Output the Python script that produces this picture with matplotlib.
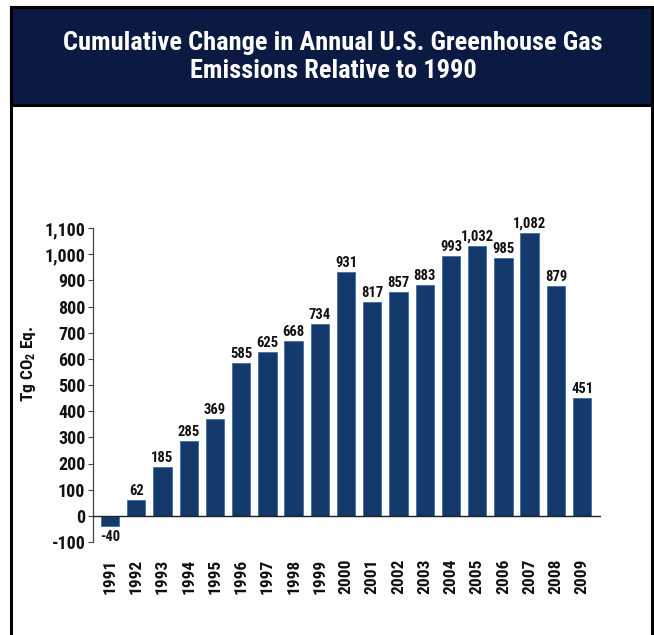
import matplotlib
matplotlib.use("Agg")
import matplotlib.pyplot as plt
from matplotlib.patches import Rectangle
from matplotlib.ticker import FuncFormatter

years = ["1991", "1992", "1993", "1994", "1995", "1996", "1997", "1998", "1999", "2000",
         "2001", "2002", "2003", "2004", "2005", "2006", "2007", "2008", "2009"]
values = [-40, 62, 185, 285, 369, 585, 625, 668, 734, 931,
          817, 857, 883, 993, 1032, 985, 1082, 879, 451]
value_labels = ["-40", "62", "185", "285", "369", "585", "625", "668", "734", "931",
                "817", "857", "883", "993", "1,032", "985", "1,082", "879", "451"]
yticks = [-100, 0, 100, 200, 300, 400, 500, 600, 700, 800, 900, 1000, 1100]
title = "Cumulative Change in Annual U.S. Greenhouse Gas\nEmissions Relative to 1990"
ylabel = r"Tg CO$_\mathregular{2}$ Eq."

FONT = ["Roboto Condensed", "DejaVu Sans"]
plt.rcParams["font.family"] = FONT
plt.rcParams["font.weight"] = "bold"
plt.rcParams["mathtext.default"] = "regular"

W, H = 654, 635
fig = plt.figure(figsize=(W / 100, H / 100), dpi=100)
fig.patch.set_facecolor("white")

def fx(x): return x / W
def fy(y): return 1 - y / H

frame = Rectangle((fx(11), fy(640)), fx(652) - fx(11), fy(7) - fy(640),
                  transform=fig.transFigure, facecolor="none", edgecolor="black", lw=2.2, zorder=1)
band = Rectangle((fx(11), fy(105)), fx(652) - fx(11), fy(7) - fy(105),
                 transform=fig.transFigure, facecolor="#0b1a42", edgecolor="black", lw=2.2, zorder=1)
fig.patches.extend([band, frame])
fig.text(fx(333), fy(57), title, ha="center", va="center", color="white",
         fontsize=19, fontweight="bold", linespacing=1.25, family=FONT)

ax = fig.add_axes([fx(93), fy(542), fx(601) - fx(93), fy(228) - fy(542)])
x = list(range(len(years)))
ax.bar(x, values, width=0.7, color="#143a6b", edgecolor="#3f6fa8", linewidth=0.6, zorder=2)
ax.set_xlim(-0.65, len(years) - 1 + 0.72)
ax.set_ylim(-100, 1100)

for xi, v, lab in zip(x, values, value_labels):
    if v >= 0:
        ax.annotate(lab, (xi, v), xytext=(0, 1.5), textcoords="offset points",
                    ha="center", va="bottom", fontsize=10.5, fontweight="bold", color="#111111")
    else:
        ax.annotate(lab, (xi, v), xytext=(0, -2.5), textcoords="offset points",
                    ha="center", va="top", fontsize=10.5, fontweight="bold", color="#111111")

ax.axhline(0, color="#222222", lw=1.0, zorder=3)

for s in ["top", "right", "bottom"]:
    ax.spines[s].set_visible(False)
ax.spines["left"].set_color("#444444")
ax.spines["left"].set_linewidth(0.9)

ax.set_yticks(yticks)
ax.yaxis.set_major_formatter(FuncFormatter(lambda v, p: f"{int(v):,}"))
ax.tick_params(axis="y", direction="out", length=3.5, width=0.8, color="#444444",
               labelsize=13, pad=2, labelcolor="#111111")
for t in ax.get_yticklabels():
    t.set_fontweight("bold")

ax.set_xticks(x)
ax.set_xticklabels(years, rotation=90, fontsize=12.5, fontweight="bold", color="#111111")
ax.tick_params(axis="x", length=0, pad=12)

ax.set_ylabel(ylabel, fontsize=12.5, fontweight="bold", color="#111111")
ax.yaxis.set_label_coords(-0.108, 0.567)

fig.savefig("out.png", dpi=100)
